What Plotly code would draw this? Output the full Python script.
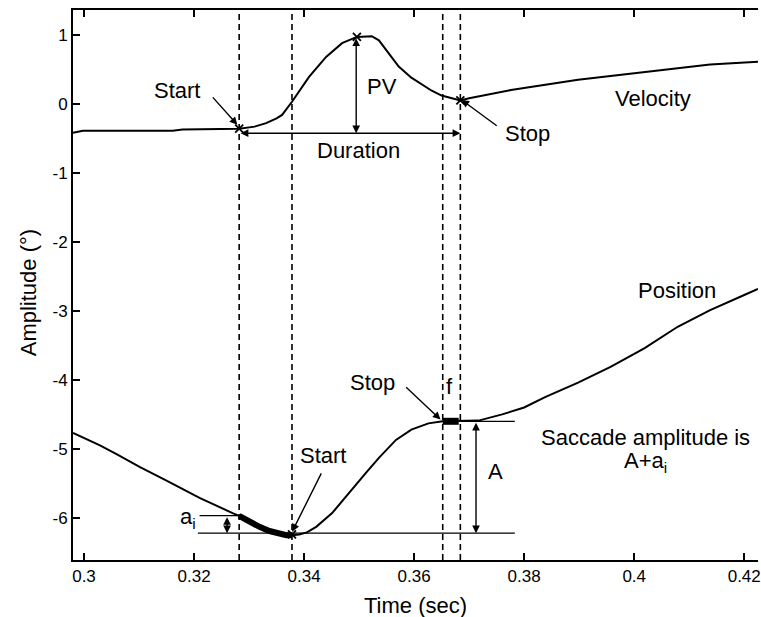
import plotly.graph_objects as go

# ---------------- data ----------------
time_pos = [0.2980, 0.3029, 0.3060, 0.3101, 0.3150, 0.3210, 0.3270, 0.3282,
            0.3300, 0.3319, 0.3337, 0.3355, 0.3368, 0.3378, 0.3391, 0.3405,
            0.3422, 0.3451, 0.3481, 0.3512, 0.3536, 0.3567, 0.3595, 0.3626,
            0.3652, 0.3668, 0.3681, 0.3717, 0.3760, 0.3800, 0.3838, 0.3898,
            0.3957, 0.4019, 0.4079, 0.4138, 0.4200, 0.4225]
pos = [-4.77, -4.95, -5.08, -5.26, -5.46, -5.71, -5.93, -5.97,
       -6.06, -6.13, -6.19, -6.23, -6.25, -6.25, -6.24, -6.21,
       -6.13, -5.93, -5.64, -5.35, -5.13, -4.87, -4.72, -4.63,
       -4.60, -4.60, -4.60, -4.59, -4.50, -4.40, -4.25, -4.04,
       -3.81, -3.54, -3.23, -2.99, -2.77, -2.68]

time_vel = [0.2980, 0.2998, 0.3100, 0.3161, 0.3179, 0.3230, 0.3282, 0.3310,
            0.3331, 0.3350, 0.3360, 0.3378, 0.3409, 0.3440, 0.3469, 0.3496,
            0.3523, 0.3536, 0.3555, 0.3572, 0.3595, 0.3614, 0.3632, 0.3650,
            0.3668, 0.3684, 0.3700, 0.3776, 0.3898, 0.4019, 0.4138, 0.4225]
vel = [-0.42, -0.39, -0.39, -0.39, -0.37, -0.37, -0.36, -0.33,
       -0.28, -0.21, -0.16, 0.03, 0.39, 0.68, 0.88, 0.97,
       0.98, 0.92, 0.72, 0.54, 0.38, 0.28, 0.19, 0.12,
       0.08, 0.05, 0.08, 0.20, 0.35, 0.46, 0.57, 0.61]

# event times (dashed lines): velocity start, position start, position stop, velocity stop
event_times = [0.3282, 0.3378, 0.3652, 0.3684]

# marked points ("x")
mark_t = [0.3282, 0.3496, 0.3684, 0.3378]
mark_v = [-0.36, 0.97, 0.05, -6.24]

# reference levels
pv_level_bottom = -0.425
ai_top = -5.967
base_level = -6.222
stop_level = -4.60
base_t = [0.3207, 0.3783]
ai_t = [0.3210, 0.3282]
stop_t = [0.3684, 0.3783]

x_ticks = [0.30, 0.32, 0.34, 0.36, 0.38, 0.40, 0.42]
x_ticktext = ["0.3", "0.32", "0.34", "0.36", "0.38", "0.4", "0.42"]
y_ticks = [-6, -5, -4, -3, -2, -1, 0, 1]
y_ticktext = ["-6", "-5", "-4", "-3", "-2", "-1", "0", "1"]

FONT = "Liberation Sans, Arial, Helvetica, sans-serif"
BLACK = "#000000"

fig = go.Figure()

# main curves
fig.add_trace(go.Scatter(x=time_vel, y=vel, mode="lines",
                         line=dict(color=BLACK, width=2), hoverinfo="skip"))
fig.add_trace(go.Scatter(x=time_pos, y=pos, mode="lines",
                         line=dict(color=BLACK, width=2), hoverinfo="skip"))

# thick segment a_i (between velocity start and position start)
seg_t = [t for t in time_pos if event_times[0] <= t <= event_times[1]]
seg_p = [p for t, p in zip(time_pos, pos) if event_times[0] <= t <= event_times[1]]
fig.add_trace(go.Scatter(x=seg_t, y=seg_p, mode="lines",
                         line=dict(color=BLACK, width=6), hoverinfo="skip"))
# thick segment f (between position stop and velocity stop)
f_t = [t for t in time_pos if event_times[2] <= t <= event_times[3]]
f_p = [p for t, p in zip(time_pos, pos) if event_times[2] <= t <= event_times[3]]
fig.add_trace(go.Scatter(x=f_t, y=f_p, mode="lines",
                         line=dict(color=BLACK, width=7), hoverinfo="skip"))

# reference horizontal lines
fig.add_trace(go.Scatter(x=base_t, y=[base_level, base_level], mode="lines",
                         line=dict(color=BLACK, width=1.3), hoverinfo="skip"))
fig.add_trace(go.Scatter(x=ai_t, y=[ai_top, ai_top], mode="lines",
                         line=dict(color=BLACK, width=1.3), hoverinfo="skip"))
fig.add_trace(go.Scatter(x=stop_t, y=[stop_level, stop_level], mode="lines",
                         line=dict(color=BLACK, width=1.3), hoverinfo="skip"))

# x markers
fig.add_trace(go.Scatter(x=mark_t, y=mark_v, mode="markers",
                         marker=dict(symbol="x-thin", size=8, color=BLACK,
                                     line=dict(color=BLACK, width=1.8)),
                         hoverinfo="skip"))

# dashed event lines
for t in event_times:
    fig.add_shape(type="line", xref="x", yref="paper", x0=t, x1=t, y0=0, y1=1,
                  line=dict(color=BLACK, width=1.6, dash="6px,4px"))

ann = []


def arrow(x, y, ax, ay, both=False):
    d = dict(x=x, y=y, ax=ax, ay=ay, xref="x", yref="y", axref="x", ayref="y",
             text="", showarrow=True, arrowhead=2, arrowsize=1.1, arrowwidth=1.4,
             arrowcolor=BLACK, standoff=0, startstandoff=0)
    if both:
        d["arrowside"] = "end+start"
        d["startarrowhead"] = 2
        d["startarrowsize"] = 1.1
    ann.append(d)


def label(x, y, text, size=22):
    ann.append(dict(x=x, y=y, xref="x", yref="y", text=text, showarrow=False,
                    font=dict(family=FONT, size=size, color=BLACK),
                    xanchor="center", yanchor="middle"))


# velocity annotations
label(0.31683, 0.19, "Start")
arrow(0.32787, -0.304, 0.32317, 0.116)
label(0.35412, 0.25, "PV")
arrow(0.34947, pv_level_bottom, 0.34947, mark_v[1], both=True)
label(0.34995, -0.67, "Duration")
arrow(event_times[3], pv_level_bottom, event_times[0], pv_level_bottom, both=True)
label(0.38054, -0.43, "Stop")
arrow(0.36860, 0.058, 0.37529, -0.333)
label(0.40335, 0.08, "Velocity")

# position annotations
label(0.40769, -2.70, "Position")
label(0.35249, -4.04, "Stop")
arrow(0.36480, -4.575, 0.35828, -4.087)
label(0.36643, -4.10, "f")
label(0.34344, -5.10, "Start")
arrow(0.33783, -6.20, 0.34326, -5.333)
label(0.31882, -6.00, "a<sub>i</sub>")
arrow(0.32600, base_level, 0.32600, ai_top, both=True)
label(0.37475, -5.33, "A")
arrow(0.37125, base_level, 0.37125, stop_level, both=True)
label(0.40199, -4.83, "Saccade amplitude is")
label(0.40199, -5.19, "A+a<sub>i</sub>")

# axis titles
ann.append(dict(x=0.5, y=0, xref="paper", yref="paper", yshift=-45,
                text="Time (sec)", showarrow=False, xanchor="center", yanchor="middle",
                font=dict(family=FONT, size=22, color=BLACK)))
ann.append(dict(x=0, y=0.485, xref="paper", yref="paper", xshift=-45,
                text="Amplitude (°)", showarrow=False, textangle=-90,
                xanchor="center", yanchor="middle",
                font=dict(family=FONT, size=22, color=BLACK)))

fig.update_layout(
    width=761, height=617,
    margin=dict(l=73, r=0, t=10, b=57),
    paper_bgcolor="white", plot_bgcolor="white",
    showlegend=False,
    font=dict(family=FONT, color=BLACK),
    annotations=ann,
    xaxis=dict(range=[0.298, 0.4225], tickvals=x_ticks, ticktext=x_ticktext,
               ticks="inside", ticklen=7, tickwidth=1.5, tickcolor=BLACK,
               showline=True, linecolor=BLACK, linewidth=2, mirror="ticks",
               showgrid=False, zeroline=False, ticklabeloverflow="allow",
               tickfont=dict(family=FONT, size=17, color=BLACK)),
    yaxis=dict(range=[-6.61, 1.36], tickvals=y_ticks, ticktext=y_ticktext,
               ticks="inside", ticklen=7, tickwidth=1.5, tickcolor=BLACK,
               showline=True, linecolor=BLACK, linewidth=2,
               showgrid=False, zeroline=False,
               tickfont=dict(family=FONT, size=17, color=BLACK)),
)

fig.write_html("out.html")
